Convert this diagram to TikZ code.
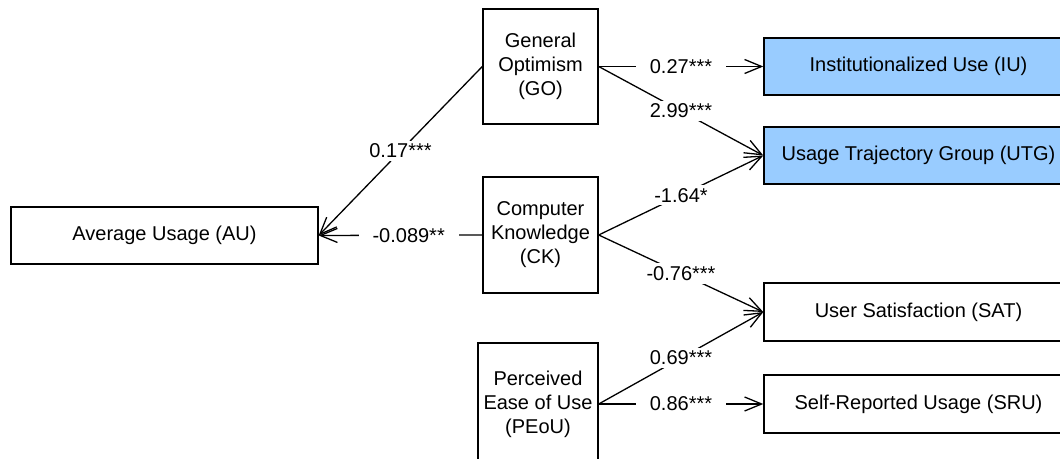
\documentclass[tikz,border=0pt]{standalone}
\usepackage{fontspec}
\setmainfont{Liberation Sans}
\usetikzlibrary{arrows.meta}
\definecolor{boxblue}{RGB}{153,204,255}
\tikzset{
  box/.style={draw=black, line width=0.7pt, align=center, inner sep=0pt,
    font=\fontsize{10}{12}\selectfont},
  conn/.style={line width=0.65pt, -{Straight Barb[length=8.5pt,width=7pt,line width=0.65pt]}},
  lab/.style={fill=white, inner xsep=7pt, inner ysep=1.5pt, font=\fontsize{10}{12}\selectfont}
}
\begin{document}
\begin{tikzpicture}[x=0.5pt,y=-0.5pt]
\clip (0,0) rectangle (1060,459);
\fill[white] (0,0) rectangle (1060,459);
\node[box, minimum width=153.5pt, minimum height=28.5pt] (au) at (164.5,235.5) {Average Usage (AU)};
\node[box, minimum width=57.5pt, minimum height=57.5pt] (go) at (540.5,66.5) {General\\Optimism\\(GO)};
\node[box, minimum width=57.5pt, minimum height=58pt] (ck) at (540.5,235) {Computer\\Knowledge\\(CK)};
\node[box, minimum width=60pt, minimum height=61pt] (peou) at (538,404) {Perceived\\Ease of Use\\(PEoU)};
\node[box, fill=boxblue, minimum width=154.5pt, minimum height=28.5pt] (iu) at (918.5,66.5) {Institutionalized Use (IU)};
\node[box, fill=boxblue, minimum width=154.5pt, minimum height=28.5pt] (utg) at (918.5,155.5) {Usage Trajectory Group (UTG)};
\node[box, minimum width=154.5pt, minimum height=29pt] (sat) at (918.5,312) {User Satisfaction (SAT)};
\node[box, minimum width=154.5pt, minimum height=29pt] (sru) at (918.5,404) {Self-Reported Usage (SRU)};

\draw[conn] (go.east) -- node[lab] {0.27***} (iu.west);
\draw[conn] (go.east) -- node[lab] {2.99***} (utg.west);
\draw[conn] (ck.east) -- node[lab] {-1.64*} (utg.west);
\draw[conn] (ck.east) -- node[lab] {-0.76***} (sat.west);
\draw[conn] (peou.east) -- node[lab] {0.69***} (sat.west);
\draw[conn] (peou.east) -- node[lab] {0.86***} (sru.west);
\draw[conn] (go.west) -- node[lab] {0.17***} (au.east);
\draw[conn] (ck.west) -- node[lab, pos=0.45] {-0.089**} (au.east);
\end{tikzpicture}
\end{document}
